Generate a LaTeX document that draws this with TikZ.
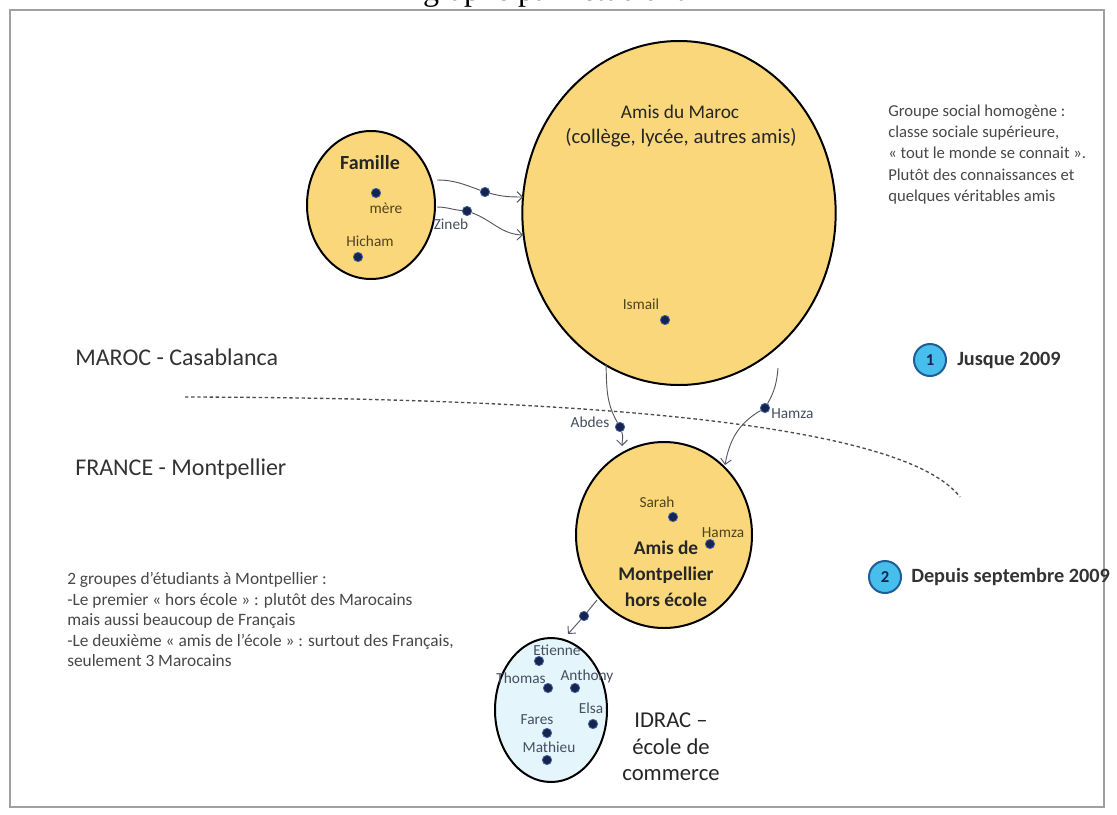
\documentclass[tikz,border=0pt]{standalone}
\usepackage{fontspec}
\setmainfont{Carlito}
\newfontfamily\capfont{Liberation Serif}
\usetikzlibrary{shapes.geometric,arrows.meta}
\definecolor{yellowfill}{RGB}{250,215,122}
\definecolor{dotfill}{RGB}{22,36,78}
\definecolor{dotrim}{RGB}{70,100,165}
\definecolor{namecol}{RGB}{80,68,30}
\definecolor{idraccol}{RGB}{70,78,95}
\definecolor{textgray}{RGB}{72,72,72}
\definecolor{linkcol}{RGB}{85,88,100}
\definecolor{idracfill}{RGB}{228,245,252}
\definecolor{badgefill}{RGB}{72,190,236}
\definecolor{badgedraw}{RGB}{32,92,150}
\definecolor{framecol}{RGB}{160,160,160}
\begin{document}
\begin{tikzpicture}[x=0.75pt,y=-0.75pt,
  group/.style={ellipse, draw=black, line width=1.5pt, fill=yellowfill, inner sep=0pt, outer sep=0pt},
  pers/.style={circle, fill=dotfill, draw=dotrim, line width=0.6pt, minimum size=7pt, inner sep=0pt},
  who/.style={font=\fontsize{11.5}{13}\selectfont, text=namecol, inner sep=0pt},
  iwho/.style={font=\fontsize{11.5}{13}\selectfont, text=idraccol, inner sep=0pt},
  link/.style={draw=linkcol, line width=0.7pt},
  tip/.style={-{Straight Barb[length=4pt,width=8pt]}},
  btitle/.style={font=\bfseries\fontsize{14.5}{19.5}\selectfont, text=black!85, align=center, inner sep=0pt},
  region/.style={font=\fontsize{18}{20}\selectfont, text=black!80, anchor=west, inner sep=0pt},
  note/.style={align=left, anchor=north west, inner sep=0pt, text=textgray},
  badge/.style={circle, fill=badgefill, draw=badgedraw, line width=1.5pt, minimum size=24pt, inner sep=0pt, font=\bfseries\fontsize{12.5}{12.5}\selectfont, text=dotfill},
  period/.style={font=\bfseries\fontsize{15.2}{17}\selectfont, text=black!80, anchor=west, inner sep=0pt}
]
\useasboundingbox (0,0) rectangle (1117,814);
\clip (0,0) rectangle (1117,814);
\fill[white] (0,0) rectangle (1117,814);

% cut caption and frame
\node[font=\capfont\fontsize{24}{28}\selectfont, anchor=base, inner sep=0pt] (cap) at (554,0) {graphe par l'étudiant};
\draw[framecol, line width=1.5pt] (10,10) rectangle (1104,807);

% dashed border between the two periods
\coordinate (b0) at (185,397);
\coordinate (b1) at (960,497);
\draw[black!70, line width=1pt, dash pattern=on 2.6pt off 2pt] (b0) .. controls (600,398) and (905,425) .. (b1);

% groups
\node[group, minimum width=96pt, minimum height=111pt] (fam) at (371,205) {};
\node[group, minimum width=235pt, minimum height=258pt] (maroc) at (679,213) {};
\node[group, minimum width=132pt, minimum height=139.5pt] (mont) at (664,535) {};
\node[ellipse, draw=black, line width=1.5pt, fill=idracfill, inner sep=0pt, minimum width=84pt, minimum height=108pt] (idrac) at (551,710) {};

% group titles
\node[font=\bfseries\fontsize{15}{17}\selectfont, text=black!85, inner sep=0pt] (famt) at (370,163) {Famille};
\node[font=\fontsize{14.5}{19}\selectfont, text=black!85, inner sep=0pt] (marct) at (680,112) {Amis du Maroc};
\node[font=\fontsize{15.5}{19}\selectfont, text=black!85, inner sep=0pt] (marct2) at (681,138) {(collège, lycée, autres amis)};
\node[btitle] (montt) at (666,574) {Amis de\\Montpellier\\hors école};
\node[font=\fontsize{17}{20}\selectfont, text=black!85, align=center, inner sep=0pt] (idract) at (671,747) {IDRAC --\\école de\\commerce};

% people in Famille
\node[pers] (mere) at (376,193) {};
\node[who] (merel) at (386,208) {mère};
\node[who] (hichl) at (370,241) {Hicham};
\node[pers] (hich) at (358,257) {};

% people in Maroc
\node[who] (ismaill) at (641,304) {Ismail};
\node[pers] (ismail) at (665,320) {};

% people in Montpellier
\node[who] (sarahl) at (657,502) {Sarah};
\node[pers] (sarah) at (673,517) {};
\node[who] (hamza2l) at (723,533) {Hamza};
\node[pers] (hamza2) at (710,544) {};

% people in IDRAC
\node[iwho] (etil) at (557,650) {Etienne};
\node[pers] (eti) at (539,661) {};
\node[iwho] (thol) at (521,678) {Thomas};
\node[pers] (tho) at (548,688) {};
\node[iwho] (antl) at (587,676) {Anthony};
\node[pers] (ant) at (575,688) {};
\node[iwho] (elsal) at (591,708) {Elsa};
\node[pers] (elsa) at (593,724) {};
\node[iwho] (farl) at (537,720) {Fares};
\node[pers] (far) at (547,733) {};
\node[iwho] (matl) at (549,747) {Mathieu};
\node[pers] (mat) at (547,760) {};

% links Famille -> Maroc
\node[pers] (dA) at (485,192) {};
\node[pers] (zineb) at (467,211) {};
\node[iwho] (zinebl) at (451,224) {Zineb};
\coordinate (f1s) at (437,180);
\coordinate (f1e) at (523,197);
\coordinate (f2s) at (437,207);
\coordinate (f2e) at (523,235);
\draw[link] (f1s) to[out=0,in=160] (dA);
\draw[link,tip] (dA) to[out=-15,in=180] (f1e);
\draw[link] (f2s) to[out=0,in=175] (zineb);
\draw[link,tip] (zineb) to[out=-20,in=178] (f2e);

% links Maroc -> Montpellier
\node[pers] (abdes) at (620,427) {};
\node[iwho] (abdesl) at (590,422) {Abdes};
\node[pers] (hamza) at (765,408) {};
\node[iwho, anchor=west] (hamzal) at (771,414) {Hamza};
\coordinate (m1s) at (606,364);
\coordinate (m1e) at (622,446);
\coordinate (m2s) at (778,368);
\coordinate (m2e) at (725,465);
\draw[link] (m1s) to[out=-88,in=120] (abdes);
\draw[link,tip] (abdes) to[out=-70,in=90] (m1e);
\draw[link] (m2s) to[out=-95,in=60] (hamza);
\draw[link,tip] (hamza) to[out=-150,in=80] (m2e);

% link Montpellier -> IDRAC
\node[pers] (dB) at (584,616) {};
\coordinate (i1s) at (597,600);
\coordinate (i1e) at (568,634);
\draw[link] (i1s) -- (dB);
\draw[link,tip] (dB) -- (i1e);

% region labels
\node[region] (maroclab) at (75,357) {MAROC - Casablanca};
\node[region] (francelab) at (75,469) {FRANCE - Montpellier};

% notes
\node[note, font=\fontsize{12.5}{15.8}\selectfont] (noteR) at (888,105) {Groupe social homogène :\\classe sociale supérieure,\\« tout le monde se connait ».\\Plutôt des connaissances et\\quelques véritables amis};
\node[note, font=\fontsize{13}{15.4}\selectfont] (noteL) at (67,572) {2 groupes d'étudiants à Montpellier :\\-Le premier « hors école » : plutôt des Marocains\\mais aussi beaucoup de Français\\-Le deuxième « amis de l'école » : surtout des Français,\\seulement 3 Marocains};

% periods
\node[badge] (p1) at (930,360) {1};
\node[period] (p1t) at (957,360) {Jusque 2009};
\node[badge] (p2) at (885,577) {2};
\node[period] (p2t) at (911,577) {Depuis septembre 2009};
\end{tikzpicture}
\end{document}
